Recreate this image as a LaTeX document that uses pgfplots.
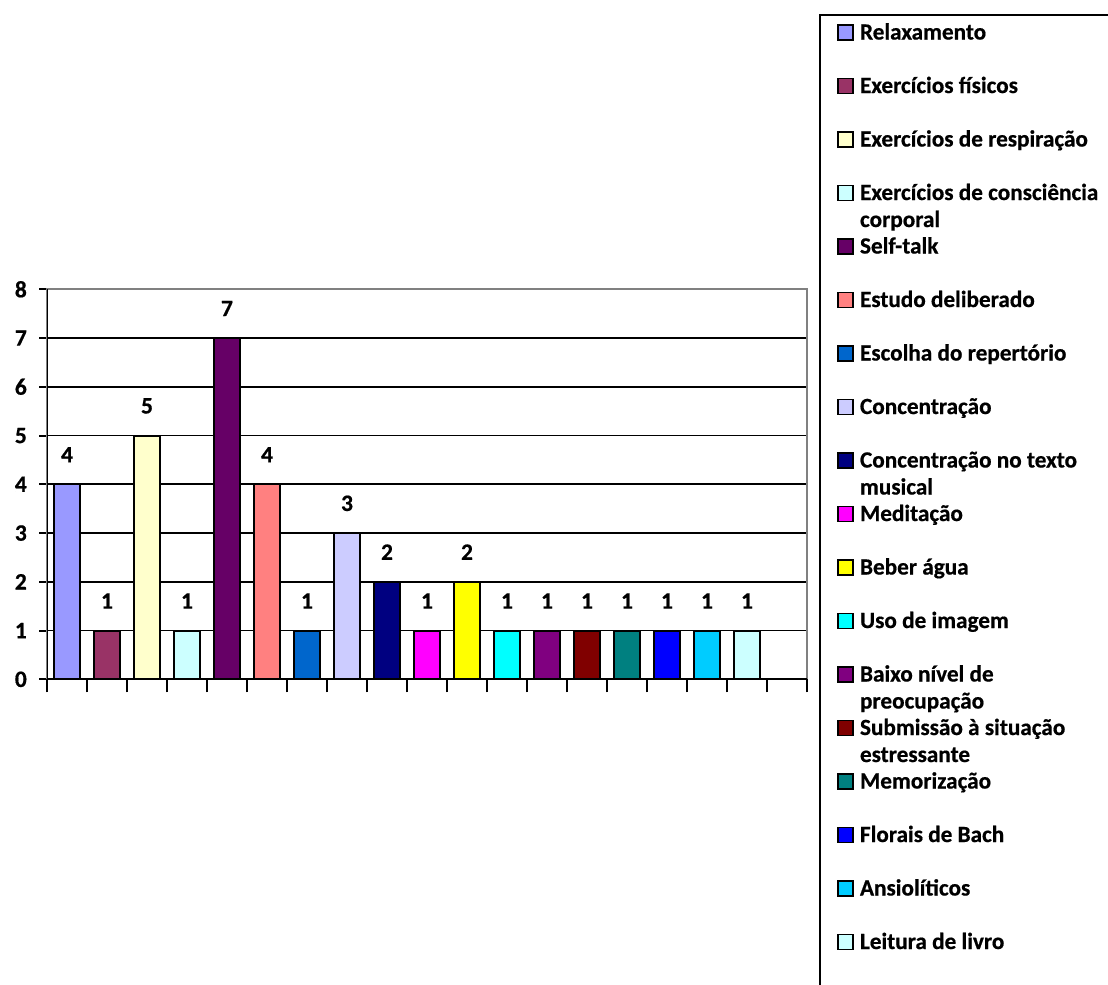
\documentclass[border=0pt]{standalone}
\usepackage{fontspec}
\setmainfont{Carlito}[BoldFeatures={FakeBold=0.6}]
\usepackage{pgfplots}
\pgfplotsset{compat=1.18}

\definecolor{c1}{HTML}{9999FF}
\definecolor{c2}{HTML}{993366}
\definecolor{c3}{HTML}{FFFFCC}
\definecolor{c4}{HTML}{CCFFFF}
\definecolor{c5}{HTML}{660066}
\definecolor{c6}{HTML}{FF8080}
\definecolor{c7}{HTML}{0066CC}
\definecolor{c8}{HTML}{CCCCFF}
\definecolor{c9}{HTML}{000080}
\definecolor{c10}{HTML}{FF00FF}
\definecolor{c11}{HTML}{FFFF00}
\definecolor{c12}{HTML}{00FFFF}
\definecolor{c13}{HTML}{800080}
\definecolor{c14}{HTML}{800000}
\definecolor{c15}{HTML}{008080}
\definecolor{c16}{HTML}{0000FF}
\definecolor{c17}{HTML}{00CCFF}
\definecolor{c18}{HTML}{CCFFFF}

\newcommand\f{\fontsize{23.5bp}{27bp}\selectfont\bfseries}
\newcommand\fl{\fontsize{23.2bp}{27bp}\selectfont\bfseries}
% one-line and two-line legend texts, all of the same row height
\newcommand\LA[1]{\makebox[262bp][l]{#1}}
\newcommand\LB[2]{\makebox[262bp][l]{\rlap{\raisebox{-27bp}[0pt][0pt]{#2}}#1}}

\pgfplotsset{
  bb/.style={ybar, bar shift=0pt, bar width=26.7bp, fill=#1, draw=black, line width=1.9bp,
    legend image code/.code={\draw[fill=#1, draw=black, line width=1.8bp] (0bp,-5.5bp) rectangle (15bp,9.5bp);}},
}

\begin{document}
\begin{tikzpicture}
\useasboundingbox (0,0) rectangle (1108bp,985bp);
\begin{axis}[
  at={(47bp,305.7bp)}, anchor=south west,
  scale only axis, width=760bp, height=390bp,
  xmin=-0.5, xmax=18.5, ymin=0, ymax=8,
  xtick=\empty,
  extra x ticks={-0.5,0.5,1.5,2.5,3.5,4.5,5.5,6.5,7.5,8.5,9.5,10.5,11.5,12.5,13.5,14.5,15.5,16.5,17.5,18.5},
  extra x tick labels={},
  extra x tick style={major tick length=13bp, xtick pos=left, tick align=outside},
  ytick={0,1,...,8},
  xtick pos=left, ytick pos=left,
  tick align=outside, major tick length=8bp,
  tick style={black, line width=1.9bp},
  axis line style={gray, line width=1.8bp},
  ymajorgrids, grid style={black, line width=1.8bp},
  /pgf/number format/assume math mode=true,
  yticklabel style={font=\f, anchor=east, inner sep=0pt, xshift=-12bp},
  nodes near coords,
  every node near coord/.append style={font=\f, black, anchor=south, inner sep=0pt, yshift=21bp},
  legend cell align=left,
  legend style={at={(1.0158,1.7059)}, anchor=north west, draw=black, line width=2.4bp, fill=white,
    inner xsep=17bp, inner ysep=8.3bp, row sep=31.5bp, column sep=6bp,
    font=\fl, nodes={inner sep=0pt, text height=16bp, text depth=6bp}},
]
\addplot[bb=c1] coordinates {(0,4)};   \addlegendentry{\LA{Relaxamento}}
\addplot[bb=c2] coordinates {(1,1)};   \addlegendentry{\LA{Exercícios físicos}}
\addplot[bb=c3] coordinates {(2,5)};   \addlegendentry{\LA{Exercícios de respiração}}
\addplot[bb=c4] coordinates {(3,1)};   \addlegendentry{\LB{Exercícios de consciência}{corporal}}
\addplot[bb=c5] coordinates {(4,7)};   \addlegendentry{\LA{Self-talk}}
\addplot[bb=c6] coordinates {(5,4)};   \addlegendentry{\LA{Estudo deliberado}}
\addplot[bb=c7] coordinates {(6,1)};   \addlegendentry{\LA{Escolha do repertório}}
\addplot[bb=c8] coordinates {(7,3)};   \addlegendentry{\LA{Concentração}}
\addplot[bb=c9] coordinates {(8,2)};   \addlegendentry{\LB{Concentração no texto}{musical}}
\addplot[bb=c10] coordinates {(9,1)};  \addlegendentry{\LA{Meditação}}
\addplot[bb=c11] coordinates {(10,2)}; \addlegendentry{\LA{Beber água}}
\addplot[bb=c12] coordinates {(11,1)}; \addlegendentry{\LA{Uso de imagem}}
\addplot[bb=c13] coordinates {(12,1)}; \addlegendentry{\LB{Baixo nível de}{preocupação}}
\addplot[bb=c14] coordinates {(13,1)}; \addlegendentry{\LB{Submissão à situação}{estressante}}
\addplot[bb=c15] coordinates {(14,1)}; \addlegendentry{\LA{Memorização}}
\addplot[bb=c16] coordinates {(15,1)}; \addlegendentry{\LA{Florais de Bach}}
\addplot[bb=c17] coordinates {(16,1)}; \addlegendentry{\LA{Ansiolíticos}}
\addplot[bb=c18] coordinates {(17,1)}; \addlegendentry{\LA{Leitura de livro}}
\addlegendimage{empty legend}\addlegendentry{\LA{}}
% left and bottom edges of the plot area in black
\draw[black, line width=1.9bp] (rel axis cs:0,1) -- (rel axis cs:0,0) -- (rel axis cs:1,0);
\end{axis}
\end{tikzpicture}
\end{document}
